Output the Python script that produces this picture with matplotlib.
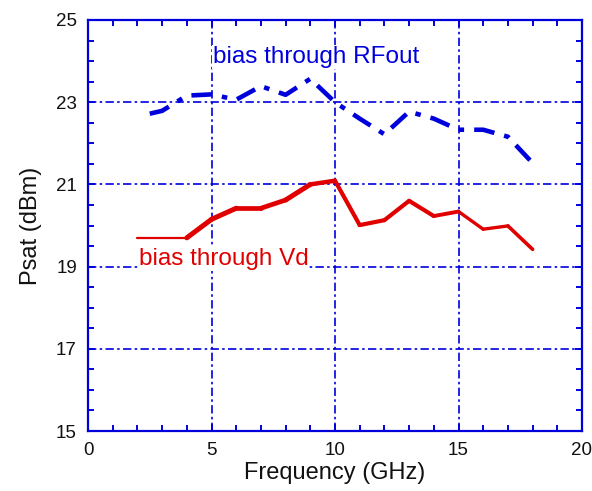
import matplotlib
matplotlib.use("Agg")
import matplotlib.pyplot as plt
import numpy as np
from matplotlib.ticker import MultipleLocator, FixedLocator

plt.rcParams['font.family'] = ['Liberation Sans', 'DejaVu Sans']

freq_rfout = [2.5, 3, 4, 5, 6, 7, 8, 9, 10, 11, 12, 13, 14, 15, 16, 17, 18]
psat_rfout = [22.72, 22.79, 23.16, 23.19, 23.06, 23.39, 23.18, 23.57, 23.0, 22.6, 22.22, 22.77, 22.6, 22.33, 22.33, 22.16, 21.52]

freq_vd = [2, 3, 4, 5, 6, 7, 8, 9, 10, 11, 12, 13, 14, 15, 16, 17, 18]
psat_vd = [19.7, 19.7, 19.7, 20.15, 20.42, 20.42, 20.62, 21.0, 21.09, 20.01, 20.13, 20.6, 20.23, 20.34, 19.91, 19.99, 19.42]

y_ticks = [15, 17, 19, 21, 23, 25]
x_ticks = [0, 5, 10, 15, 20]

BLUE = '#0000dd'
RED = '#e00000'

fig = plt.figure(figsize=(5.92, 4.91), dpi=100)
ax = fig.add_axes([88/592, 1-431/491, (582-88)/592, (431-20)/491])

ax.set_xlim(0, 20)
ax.set_ylim(15, 25)
ax.xaxis.set_major_locator(FixedLocator(x_ticks))
ax.xaxis.set_minor_locator(MultipleLocator(1))
ax.yaxis.set_major_locator(FixedLocator(y_ticks))
ax.yaxis.set_minor_locator(MultipleLocator(0.5))

for s in ax.spines.values():
    s.set_color(BLUE)
    s.set_linewidth(1.6)

ax.tick_params(which='both', direction='in', top=True, right=True, color=BLUE,
               labelsize=13.5, labelcolor='#111111', width=1.4)
ax.tick_params(which='major', length=5, pad=8)
ax.tick_params(which='minor', length=4)

ax.grid(True, which='major', color=BLUE, linestyle=(0, (5, 2, 1.5, 2)), linewidth=1.2)
ax.set_axisbelow(True)

# red line with varying width per segment
red_w = [1.6, 1.6, 3.6, 3.6, 3.4, 3.4, 3.6, 3.2, 3.0, 3.0, 3.0, 3.0, 2.8, 2.4, 2.4, 2.6]
for i in range(len(freq_vd) - 1):
    ax.plot(freq_vd[i:i+2], psat_vd[i:i+2], color=RED, linewidth=red_w[i],
            solid_capstyle='round', solid_joinstyle='round', zorder=3)

ax.plot(freq_rfout, psat_rfout, color=BLUE, linewidth=3.3,
        linestyle=(0, (4.5, 2.2, 1.2, 2.2)), zorder=3)

ax.text(5.05, 24.1, 'bias through RFout', color=BLUE, fontsize=17.5, va='center', ha='left',
        bbox=dict(facecolor='white', edgecolor='none', pad=0.5), zorder=4)
ax.text(2.05, 19.18, 'bias through Vd', color=RED, fontsize=17.5, va='center', ha='left',
        bbox=dict(facecolor='white', edgecolor='none', pad=0.5), zorder=4)

ax.set_xlabel('Frequency (GHz)', fontsize=17, color='#111111', labelpad=2)
ax.set_ylabel('Psat (dBm)', fontsize=17, color='#111111', labelpad=10)

fig.savefig('out.png', dpi=100)
